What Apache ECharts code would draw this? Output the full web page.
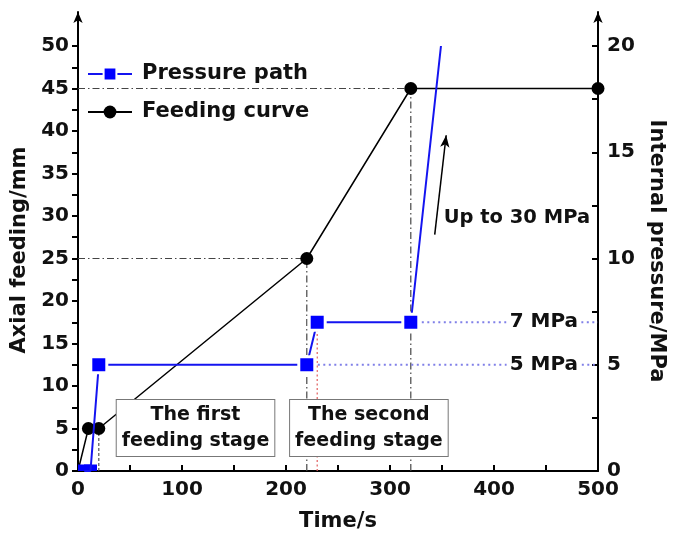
<!DOCTYPE html>
<html>
<head>
<meta charset="utf-8">
<script src="https://cdn.jsdelivr.net/npm/echarts@6/dist/echarts.min.js"></script>
<style>
  html, body { margin: 0; padding: 0; background: #fff; }
  #chart { width: 683px; height: 535px; }
</style>
</head>
<body>
<div id="chart"></div>
<script>
// Feeding curve: time (s) -> axial feeding (mm), left axis
const feedingTime = [0, 10, 20, 220, 320, 500];
const feedingMm   = [0, 5, 5, 25, 45, 45];

// Pressure path: time (s) -> internal pressure (MPa), right axis
const pressureTime = [6, 12, 20, 220, 230, 320, 349];
const pressureMPa  = [0, 0, 5, 5, 7, 7, 20];

// Tick values
const timeLabels  = [0, 100, 200, 300, 400, 500];
const timeTicks   = [0, 50, 100, 150, 200, 250, 300, 350, 400, 450, 500];
const feedLabels  = [0, 5, 10, 15, 20, 25, 30, 35, 40, 45, 50];
const feedTicks   = [0, 2.5, 5, 7.5, 10, 12.5, 15, 17.5, 20, 22.5, 25, 27.5, 30, 32.5, 35, 37.5, 40, 42.5, 45, 47.5, 50];
const pressLabels = [0, 5, 10, 15, 20];
const pressTicks  = [0, 2.5, 5, 7.5, 10, 12.5, 15, 17.5, 20];

// Annotation texts
const stageTexts = ['The first\nfeeding stage', 'The second\nfeeding stage'];
const levelTexts = ['5 MPa', '7 MPa'];
const riseText   = 'Up to 30 MPa';

const FONT = 'DejaVu Sans';
const INK = '#111';
const BLUE = '#0000ff';

// the curve starts at the origin without a marker
const feedingData = feedingTime.map((t, i) =>
  i === 0 ? { value: [t, feedingMm[i]], symbol: 'none' } : { value: [t, feedingMm[i]] });
const feedPt = i => feedingData[i].value;

// markers sitting on the time axis are drawn by a clipped custom series
const pressureData = pressureTime.map((t, i) => {
  const item = { value: [t, pressureMPa[i]] };
  if (pressureMPa[i] === 0 || i === pressureTime.length - 1) item.symbol = 'none';
  return item;
});
const baseMarkers = pressureTime
  .map((t, i) => [t, pressureMPa[i]])
  .filter(p => p[1] === 0);

// Dash-dot guide lines dropped from feeding-curve points to the axes
function guide(data, yAxisIndex, style) {
  return {
    type: 'line', data: data, yAxisIndex: yAxisIndex,
    symbol: 'none', silent: true, z: 1,
    lineStyle: style, animation: false
  };
}
const grayDashDot = { color: '#444', width: 1.2, type: [7, 3, 1.5, 3] };
const grayDash = { color: '#555', width: 1.2, type: [3, 2] };
const p20 = feedPt(2), p220 = feedPt(3), p320 = feedPt(4);
const guides = [
  guide([[0, p220[1]], p220], 0, grayDashDot),
  guide([[p220[0], 0], p220], 0, grayDashDot),
  guide([[0, p320[1]], p320], 0, grayDashDot),
  guide([[p320[0], 0], p320], 0, grayDashDot),
  guide([[p20[0], 0], p20], 0, grayDash)
];

// Pressure hold levels extended to the right axis
const hold5 = pressureData[3].value, step7 = pressureData[4].value, hold7 = pressureData[5].value;
const blueDot = { color: '#8080e8', width: 2, type: [2, 3.5] };
const levels = [
  guide([hold5, [500, hold5[1]]], 1, blueDot),
  guide([hold7, [500, hold7[1]]], 1, blueDot),
  guide([[step7[0], 0], step7], 1, { color: '#e05a5a', width: 1.2, type: [2, 2.5] })
];

const textBase = { fontFamily: FONT, fontWeight: 'bold', color: INK };

const chart = echarts.init(document.getElementById('chart'), null, { renderer: 'canvas' });
chart.setOption({
  animation: false,
  backgroundColor: '#fff',
  grid: { left: 78, right: 85, top: 12, bottom: 64, containLabel: false, outerBoundsMode: 'none' },
  legend: {
    orient: 'vertical', left: 82, top: 57,
    itemWidth: 44, itemHeight: 16, itemGap: 14,
    data: [
      { name: 'Pressure path', itemStyle: { borderWidth: 2 } },
      { name: 'Feeding curve' }
    ],
    textStyle: Object.assign({ fontSize: 21, lineHeight: 24, padding: [0, 0, 0, 5] }, textBase)
  },
  xAxis: {
    type: 'value', min: 0, max: 500, interval: 100,
    name: 'Time/s', nameLocation: 'middle', nameGap: 40,
    nameTextStyle: Object.assign({ fontSize: 21 }, textBase),
    axisLine: { lineStyle: { color: '#000', width: 2 } },
    axisTick: { inside: true, length: 6, customValues: timeTicks, lineStyle: { color: '#000', width: 2 } },
    axisLabel: Object.assign({ fontSize: 20, margin: 9, customValues: timeLabels }, textBase),
    splitLine: { show: false }
  },
  yAxis: [
    {
      type: 'value', min: 0, max: 54, position: 'left',
      name: 'Axial feeding/mm', nameLocation: 'middle', nameRotate: 90, nameGap: 46,
      nameTextStyle: Object.assign({ fontSize: 21, padding: [0, 17, 0, 0] }, textBase),
      axisLine: { show: true, symbol: ['none', 'arrow'], symbolSize: [7, 11], lineStyle: { color: '#000', width: 2 } },
      axisTick: { inside: false, length: 6, customValues: feedTicks, lineStyle: { color: '#000', width: 2 } },
      axisLabel: Object.assign({ fontSize: 20, margin: 9, padding: [4, 0, 0, 0], customValues: feedLabels }, textBase),
      splitLine: { show: false }
    },
    {
      type: 'value', min: 0, max: 21.6, position: 'right',
      name: 'Internal pressure/MPa', nameLocation: 'middle', nameRotate: -90, nameGap: 42,
      nameTextStyle: Object.assign({ fontSize: 21, padding: [0, 0, 0, 19] }, textBase),
      axisLine: { show: true, symbol: ['none', 'arrow'], symbolSize: [7, 11], lineStyle: { color: '#000', width: 2 } },
      axisTick: { inside: true, length: 6, customValues: pressTicks, lineStyle: { color: '#000', width: 2 } },
      axisLabel: Object.assign({ fontSize: 20, margin: 9, padding: [4, 0, 0, 0], customValues: pressLabels }, textBase),
      splitLine: { show: false }
    }
  ],
  series: guides.concat(levels).concat([
    {
      name: 'Feeding curve', type: 'line', yAxisIndex: 0, z: 4,
      data: feedingData,
      symbol: 'circle', symbolSize: 13,
      itemStyle: { color: '#000' },
      lineStyle: { color: '#000', width: 1.5 },
      markLine: {
        silent: true, symbol: ['none', 'arrow'], symbolSize: [7, 12],
        lineStyle: { color: '#000', width: 1.5, type: 'solid' },
        label: { show: false },
        data: [[{ coord: [343, 27.8] }, { coord: [354, 39.5] }]]
      },
      markPoint: {
        silent: true, symbol: 'rect', symbolSize: 1,
        itemStyle: { color: 'rgba(0,0,0,0)' },
        label: Object.assign({
          show: true, position: 'inside', fontSize: 19, lineHeight: 26,
          align: 'center', verticalAlign: 'middle',
          backgroundColor: '#fff', borderColor: '#777', borderWidth: 1, padding: [2, 5]
        }, textBase),
        data: [
          { coord: [113, 5.05], value: stageTexts[0], label: { formatter: stageTexts[0] } },
          { coord: [279.7, 5.05], value: stageTexts[1], label: { formatter: stageTexts[1] } },
          { coord: [422, 29.8], value: riseText,
            label: { formatter: riseText, fontSize: 19.5, backgroundColor: 'transparent', borderWidth: 0, padding: 0 } }
        ]
      }
    },
    {
      name: 'Pressure path', type: 'line', yAxisIndex: 1, z: 5,
      data: pressureData,
      symbol: 'rect', symbolSize: 16,
      itemStyle: { color: BLUE, borderColor: '#fff', borderWidth: 3 },
      lineStyle: { color: '#1414f0', width: 2 },
      markPoint: {
        silent: true, symbol: 'rect', symbolSize: 1,
        itemStyle: { color: 'rgba(0,0,0,0)' },
        label: Object.assign({
          show: true, position: 'inside', fontSize: 20,
          align: 'center', verticalAlign: 'middle',
          backgroundColor: '#fff', padding: [0, 3]
        }, textBase),
        data: [
          { coord: [448, hold5[1]], value: levelTexts[0], label: { formatter: levelTexts[0] } },
          { coord: [448, hold7[1]], value: levelTexts[1], label: { formatter: levelTexts[1] } }
        ]
      }
    },
    {
      // square markers at zero pressure, clipped by the plot area
      type: 'custom', yAxisIndex: 1, z: 5, clip: true, silent: true,
      data: baseMarkers,
      renderItem: function (params, api) {
        const p = api.coord([api.value(0), api.value(1)]);
        return {
          type: 'rect',
          shape: { x: p[0] - 6.5, y: p[1] - 6.5, width: 13, height: 13 },
          style: { fill: BLUE }
        };
      }
    }
  ])
});
</script>
</body>
</html>
